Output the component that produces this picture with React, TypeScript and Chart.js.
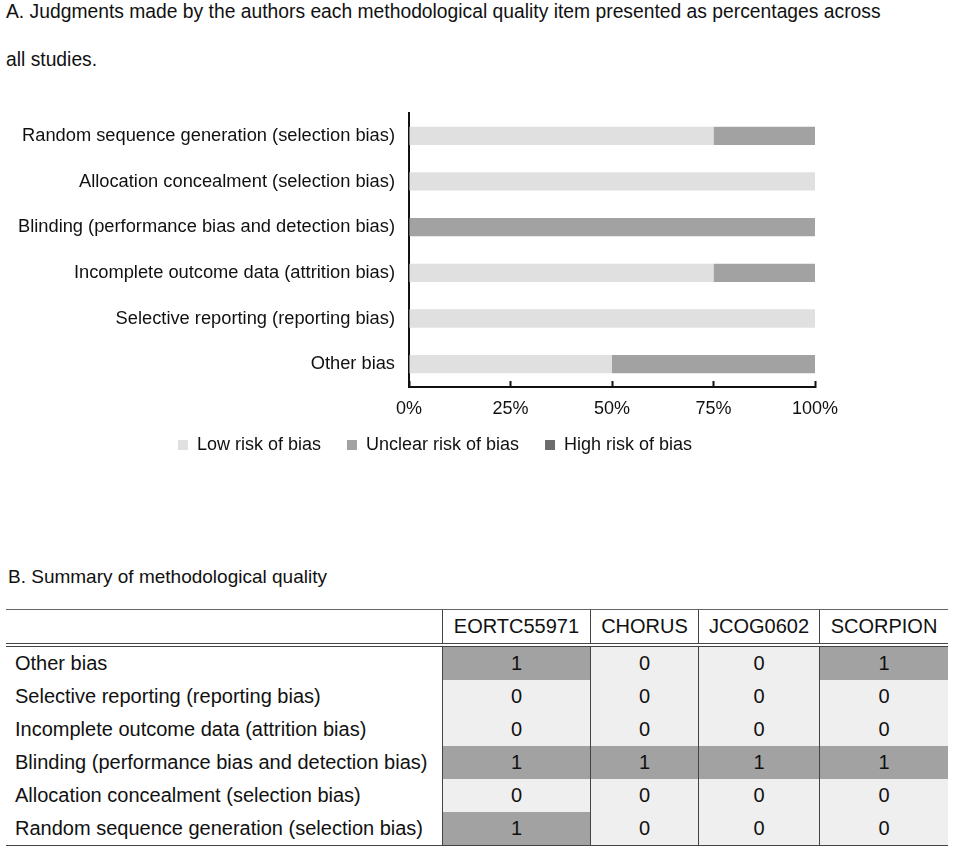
import React, { useEffect, useRef } from "react";
import { Chart, registerables } from "chart.js";

Chart.register(...registerables);

const FONT = '"Liberation Sans", Arial, Helvetica, sans-serif';

// ---- Part A data ----
const itemsA = [
  "Random sequence generation (selection bias)",
  "Allocation concealment (selection bias)",
  "Blinding (performance bias and detection bias)",
  "Incomplete outcome data (attrition bias)",
  "Selective reporting (reporting bias)",
  "Other bias",
];
const lowRisk = [75, 100, 0, 75, 100, 50];
const unclearRisk = [25, 0, 100, 25, 0, 50];
const highRisk = [0, 0, 0, 0, 0, 0];
const seriesNames = ["Low risk of bias", "Unclear risk of bias", "High risk of bias"];
const percentTicks = [0, 25, 50, 75, 100];

// ---- Part B data ----
const studies = ["EORTC55971", "CHORUS", "JCOG0602", "SCORPION"];
const itemsB = [
  "Other bias",
  "Selective reporting (reporting bias)",
  "Incomplete outcome data (attrition bias)",
  "Blinding (performance bias and detection bias)",
  "Allocation concealment (selection bias)",
  "Random sequence generation (selection bias)",
];
const eortc55971 = [1, 0, 0, 1, 0, 1];
const chorus = [0, 0, 0, 1, 0, 0];
const jcog0602 = [0, 0, 0, 1, 0, 0];
const scorpion = [1, 0, 0, 1, 0, 0];

const COLORS = { low: "#e0e0e0", unclear: "#a2a2a2", high: "#6c6c6c" };
const CELL = { 0: "#efefef", 1: "#a2a2a2" } as Record<number, string>;
const TEXT = "#111";

// Moves the legend box so it sits centred under the whole figure and close under the axis labels
const legendPlacement = {
  id: "legendPlacement",
  afterLayout(chart: any) {
    const lg = chart.legend;
    if (!lg) return;
    const dx = 27.5;
    const dy = -13;
    lg.left += dx;
    lg.right += dx;
    lg.top += dy;
    lg.bottom += dy;
  },
};

function RiskChart() {
  const ref = useRef<HTMLCanvasElement>(null);
  useEffect(() => {
    const chart = new Chart(ref.current as HTMLCanvasElement, {
      type: "bar",
      data: {
        labels: itemsA,
        datasets: [
          { label: seriesNames[0], data: lowRisk, backgroundColor: COLORS.low, categoryPercentage: 1, barPercentage: 0.4, borderWidth: 0 },
          { label: seriesNames[1], data: unclearRisk, backgroundColor: COLORS.unclear, categoryPercentage: 1, barPercentage: 0.4, borderWidth: 0 },
          { label: seriesNames[2], data: highRisk, backgroundColor: COLORS.high, categoryPercentage: 1, barPercentage: 0.4, borderWidth: 0 },
        ],
      },
      options: {
        indexAxis: "y",
        responsive: false,
        maintainAspectRatio: false,
        animation: false,
        layout: { padding: { top: 0, left: 0, right: 55, bottom: 0 } },
        plugins: {
          tooltip: { enabled: false },
          legend: {
            position: "bottom",
            labels: {
              boxWidth: 10,
              boxHeight: 10,
              padding: 26,
              color: TEXT,
              font: { family: FONT, size: 18 },
            },
          },
        },
        scales: {
          x: {
            type: "linear",
            stacked: true,
            min: 0,
            max: 100,
            afterBuildTicks: (scale: any) => {
              scale.ticks = percentTicks.map((v) => ({ value: v }));
            },
            afterFit: (scale: any) => {
              scale.height = 36;
            },
            ticks: {
              callback: (v: any) => `${v}%`,
              color: TEXT,
              font: { family: FONT, size: 18 },
              padding: 17,
              maxRotation: 0,
              autoSkip: false,
            },
            grid: {
              drawOnChartArea: false,
              drawTicks: true,
              tickLength: -6,
              tickColor: "#111",
              tickWidth: 2,
            },
            border: { display: true, color: "#111", width: 2 },
          },
          y: {
            type: "category",
            stacked: true,
            afterFit: (scale: any) => {
              scale.width = 409;
            },
            ticks: {
              color: TEXT,
              font: { family: FONT, size: 18.3 },
              padding: 14,
              autoSkip: false,
            },
            grid: { display: false, drawTicks: false },
            border: { display: true, color: "#111", width: 2 },
          },
        },
      },
      plugins: [legendPlacement],
    } as any);
    return () => chart.destroy();
  }, []);
  return (
    <canvas
      ref={ref}
      width={870}
      height={389}
      style={{ position: "absolute", left: 0, top: 88, width: 870, height: 389 }}
    />
  );
}

function SummaryTable() {
  const columns = [eortc55971, chorus, jcog0602, scorpion];
  const widths = [436, 148, 108, 121, 129];
  const vline = "1.5px solid #444";
  return (
    <div
      style={{
        position: "absolute",
        left: 6,
        top: 609,
        width: 942,
        borderTop: "1px solid #666",
        borderBottom: "1.5px solid #444",
        fontFamily: FONT,
        fontSize: 20,
        color: TEXT,
      }}
    >
      <div style={{ display: "flex", height: 37, borderBottom: "4px double #444", boxSizing: "border-box" }}>
        <div style={{ width: widths[0], flex: "none" }} />
        {studies.map((s, j) => (
          <div
            key={s}
            style={{
              width: widths[j + 1],
              flex: "none",
              boxSizing: "border-box",
              borderLeft: vline,
              textAlign: "center",
              lineHeight: "33px",
            }}
          >
            {s}
          </div>
        ))}
      </div>
      {itemsB.map((item, i) => (
        <div key={item} style={{ display: "flex", height: 33 }}>
          <div style={{ width: widths[0], flex: "none", paddingLeft: 9, boxSizing: "border-box", lineHeight: "33px", whiteSpace: "nowrap" }}>
            {item}
          </div>
          {columns.map((col, j) => (
            <div
              key={j}
              style={{
                width: widths[j + 1],
                flex: "none",
                boxSizing: "border-box",
                borderLeft: vline,
                background: CELL[col[i]],
                textAlign: "center",
                lineHeight: "33px",
              }}
            >
              {col[i]}
            </div>
          ))}
        </div>
      ))}
    </div>
  );
}

export default function App() {
  return (
    <div style={{ position: "absolute", left: 0, top: 0, width: 955, height: 849, background: "#fff", fontFamily: FONT, color: TEXT }}>
      <div style={{ position: "absolute", left: 6, top: 1, fontSize: 19.3, lineHeight: "22px", whiteSpace: "nowrap" }}>
        A. Judgments made by the authors each methodological quality item presented as percentages across
      </div>
      <div style={{ position: "absolute", left: 6, top: 49, fontSize: 19.3, lineHeight: "22px", whiteSpace: "nowrap" }}>
        all studies.
      </div>
      <RiskChart />
      <div style={{ position: "absolute", left: 8, top: 566, fontSize: 19, lineHeight: "22px", whiteSpace: "nowrap" }}>
        B. Summary of methodological quality
      </div>
      <SummaryTable />
    </div>
  );
}
